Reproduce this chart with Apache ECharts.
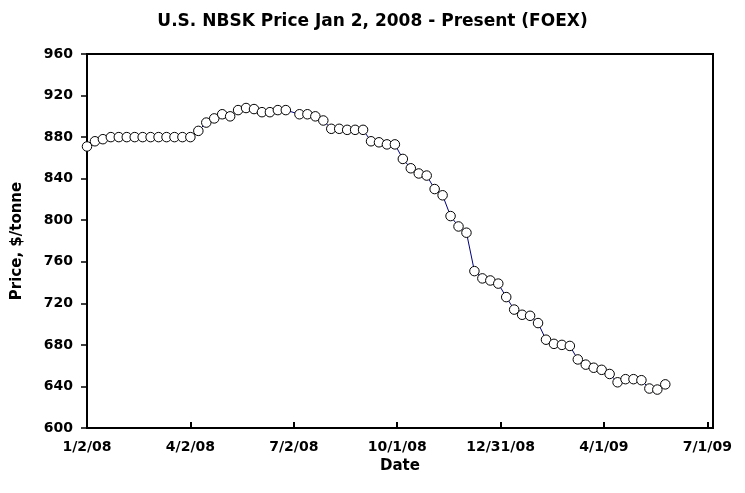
<!DOCTYPE html>
<html>
<head>
<meta charset="utf-8">
<script src="https://cdn.jsdelivr.net/npm/echarts@6/dist/echarts.min.js"></script>
<style>html,body{margin:0;padding:0;background:#fff}#c{width:745px;height:493px}</style>
</head>
<body>
<div id="c"></div>
<script>
// Axis origin date and tick labels (ticks every 91 days)
var startDate = '2008-01-02';
var tickLabels = ['1/2/08', '4/2/08', '7/2/08', '10/1/08', '12/31/08', '4/1/09', '7/1/09'];
var tickDays = [0, 91, 182, 273, 364, 455, 546];

// Observation dates (weekly)
var dates = [
  '2008-01-02','2008-01-09','2008-01-16','2008-01-23','2008-01-30','2008-02-06','2008-02-13','2008-02-20',
  '2008-02-27','2008-03-05','2008-03-12','2008-03-19','2008-03-26','2008-04-02','2008-04-09','2008-04-16',
  '2008-04-23','2008-04-30','2008-05-07','2008-05-14','2008-05-21','2008-05-28','2008-06-04','2008-06-11',
  '2008-06-18','2008-06-25',
  '2008-07-07','2008-07-14','2008-07-21','2008-07-28','2008-08-04','2008-08-11','2008-08-18','2008-08-25',
  '2008-09-01','2008-09-08','2008-09-15','2008-09-22','2008-09-29','2008-10-06','2008-10-13','2008-10-20',
  '2008-10-27','2008-11-03','2008-11-10','2008-11-17','2008-11-24','2008-12-01','2008-12-08','2008-12-15',
  '2008-12-22','2008-12-29','2009-01-05','2009-01-12','2009-01-19','2009-01-26','2009-02-02','2009-02-09',
  '2009-02-16','2009-02-23','2009-03-02','2009-03-09','2009-03-16','2009-03-23','2009-03-30','2009-04-06',
  '2009-04-13','2009-04-20','2009-04-27','2009-05-04','2009-05-11','2009-05-18','2009-05-25'
];

// Price, $/tonne
var prices = [
  871, 876, 878, 880, 880, 880, 880, 880, 880, 880, 880, 880, 880, 880, 886, 894,
  898, 902, 900, 906, 908, 907, 904, 904, 906, 906,
  902, 902, 900, 896, 888, 888, 887, 887, 887, 876, 875, 873, 873, 859, 850, 845,
  843, 830, 824, 804, 794, 788, 751, 744, 742, 739, 726, 714, 709, 708, 701, 685,
  681, 680, 679, 666, 661, 658, 656, 652, 644, 647, 647, 646, 638, 637, 642
];

var DAY = 86400000;
var t0 = Date.parse(startDate + 'T00:00:00Z');
function dayOffset(s) { return Math.round((Date.parse(s + 'T00:00:00Z') - t0) / DAY); }
var seriesData = dates.map(function (d, i) { return [dayOffset(d), prices[i]]; });
var labelMap = {};
tickDays.forEach(function (d, i) { labelMap[d] = tickLabels[i]; });

var font = 'DejaVu Sans';
var chart = echarts.init(document.getElementById('c'), null, { renderer: 'canvas' });
chart.setOption({
  animation: false,
  backgroundColor: '#ffffff',
  title: {
    text: 'U.S. NBSK Price Jan 2, 2008 - Present (FOEX)',
    left: 'center',
    top: 8,
    textStyle: { fontFamily: font, fontWeight: 'bold', fontSize: 17, color: '#000' }
  },
  grid: {
    left: 87, right: 32, top: 54, bottom: 65,
    show: true, borderColor: '#000', borderWidth: 2, backgroundColor: 'transparent'
  },
  xAxis: {
    type: 'value',
    min: 0, max: 551, interval: 91,
    name: 'Date', nameLocation: 'middle', nameGap: 26,
    nameTextStyle: { fontFamily: font, fontWeight: 'bold', fontSize: 15, color: '#000' },
    axisLine: { show: true, onZero: false, lineStyle: { color: '#000', width: 2 } },
    axisTick: { show: true, inside: true, length: 6, lineStyle: { color: '#000', width: 2 } },
    axisLabel: {
      margin: 12, fontFamily: font, fontWeight: 'bold', fontSize: 14, color: '#000',
      showMaxLabel: false,
      formatter: function (v) { return labelMap[v] !== undefined ? labelMap[v] : ''; }
    },
    splitLine: { show: false }
  },
  yAxis: {
    type: 'value',
    min: 600, max: 960, interval: 40,
    name: 'Price, $/tonne', nameLocation: 'middle', nameGap: 62, nameRotate: 90,
    nameTextStyle: { fontFamily: font, fontWeight: 'bold', fontSize: 15, color: '#000' },
    axisLine: { show: true, lineStyle: { color: '#000', width: 2 } },
    axisTick: { show: true, inside: false, length: 6, lineStyle: { color: '#000', width: 1.5 } },
    axisLabel: { margin: 14, fontFamily: font, fontWeight: 'bold', fontSize: 14, color: '#000' },
    splitLine: { show: false }
  },
  series: [{
    type: 'line',
    data: seriesData,
    clip: false,
    symbol: 'circle',
    symbolSize: 9.5,
    showAllSymbol: true,
    lineStyle: { color: '#000080', width: 1 },
    itemStyle: { color: '#ffffff', borderColor: '#000', borderWidth: 1 }
  }]
});
</script>
</body>
</html>
